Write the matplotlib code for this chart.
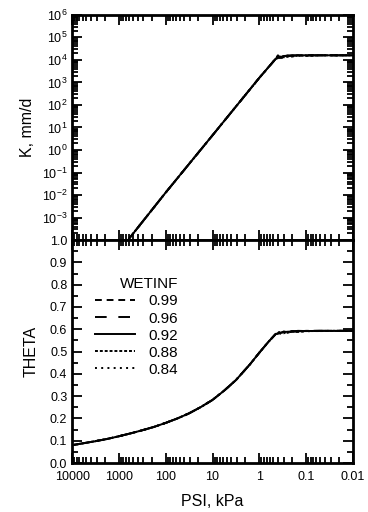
import numpy as np
import matplotlib
matplotlib.use("Agg")
from matplotlib import pyplot as plt
from matplotlib.ticker import FixedLocator, NullFormatter

plt.rcParams['font.family'] = ['Liberation Sans', 'DejaVu Sans']
plt.rcParams['mathtext.fontset'] = 'custom'
plt.rcParams['mathtext.rm'] = 'Liberation Sans'

# suction head, kPa
psi_k = [1500, 600, 100, 10, 1, 0.45, 0.40, 0.36, 0.33, 0.30, 0.25, 0.2, 0.15, 0.1, 0.05, 0.02, 0.01]
wetinf = ['0.99', '0.96', '0.92', '0.88', '0.84']
# hydraulic conductivity, mm/d, one list per WETINF
k_series = [
    [6e-6, 1.2e-4, 1.3e-2, 4.5e0, 1.6e3, 1.1e4, 1.6e4, 1.3e4, 1.7e4, 1.4e4, 1.6e4, 1.5e4, 1.6e4, 1.6e4, 1.6e4, 1.6e4, 1.6e4],
    [6e-6, 1.2e-4, 1.3e-2, 4.5e0, 1.6e3, 1.1e4, 1.3e4, 1.7e4, 1.3e4, 1.6e4, 1.4e4, 1.6e4, 1.5e4, 1.6e4, 1.6e4, 1.6e4, 1.6e4],
    [6e-6, 1.2e-4, 1.3e-2, 4.5e0, 1.6e3, 1.1e4, 1.2e4, 1.3e4, 1.4e4, 1.5e4, 1.5e4, 1.6e4, 1.6e4, 1.6e4, 1.6e4, 1.6e4, 1.6e4],
    [6e-6, 1.2e-4, 1.3e-2, 4.5e0, 1.6e3, 1.1e4, 1.5e4, 1.2e4, 1.6e4, 1.3e4, 1.5e4, 1.4e4, 1.6e4, 1.5e4, 1.6e4, 1.6e4, 1.6e4],
    [6e-6, 1.2e-4, 1.3e-2, 4.5e0, 1.6e3, 1.1e4, 1.4e4, 1.5e4, 1.2e4, 1.5e4, 1.4e4, 1.5e4, 1.5e4, 1.6e4, 1.6e4, 1.6e4, 1.6e4],
]

psi_t = [10000, 5620, 3160, 1780, 1000, 562, 316, 178, 100, 56.2, 31.6, 17.8, 10, 5.62, 3.16, 1.58, 1.0, 0.63, 0.45,
         0.40, 0.35, 0.30, 0.25, 0.2, 0.15, 0.1, 0.05, 0.01]
theta_head = [0.080, 0.089, 0.098, 0.108, 0.120, 0.133, 0.147, 0.162, 0.180, 0.200, 0.223, 0.251,
              0.283, 0.325, 0.372, 0.443, 0.495, 0.545, 0.578]
theta_series = [
    theta_head + [0.590, 0.584, 0.590, 0.587, 0.592, 0.590, 0.593, 0.593, 0.593],
    theta_head + [0.582, 0.592, 0.585, 0.591, 0.589, 0.593, 0.592, 0.593, 0.593],
    theta_head + [0.580, 0.584, 0.587, 0.589, 0.590, 0.591, 0.592, 0.593, 0.593],
    theta_head + [0.586, 0.580, 0.589, 0.584, 0.591, 0.588, 0.592, 0.592, 0.593],
    theta_head + [0.584, 0.588, 0.582, 0.590, 0.587, 0.591, 0.591, 0.593, 0.593],
]
styles = [(0, (3.5, 2.5)), (0, (6, 6)), '-', (0, (1.5, 1)), (0, (1, 2.2))]

psi_ticks = [10000, 1000, 100, 10, 1, 0.1, 0.01]
psi_labels = ['10000', '1000', '100', '10', '1', '0.1', '0.01']
k_ticks = [1e6, 1e5, 1e4, 1e3, 1e2, 1e1, 1e0, 1e-1, 1e-2, 1e-3]
k_labels = ['$10^{6}$', '$10^{5}$', '$10^{4}$', '$10^{3}$', '$10^{2}$', '$10^{1}$', '$10^{0}$',
            '$10^{-1}$', '$10^{-2}$', '$10^{-3}$']
theta_ticks = [0.0, 0.1, 0.2, 0.3, 0.4, 0.5, 0.6, 0.7, 0.8, 0.9, 1.0]


def style_axes(ax):
    ax.set_xscale('log')
    ax.set_xlim(10000, 0.01)
    ax.xaxis.set_major_locator(FixedLocator(psi_ticks))
    ax.xaxis.set_minor_locator(FixedLocator([m * 10.0 ** e for e in range(-2, 4) for m in range(2, 10)]))
    ax.tick_params(which='both', direction='in', top=True, right=True, width=1.3, colors='black')
    ax.tick_params(which='major', length=7, labelsize=9)
    ax.tick_params(which='minor', length=4)
    for s in ax.spines.values():
        s.set_linewidth(2)


fig = plt.figure(figsize=(3.68, 5.12), dpi=100)
ax_k = fig.add_axes([0.196, 0.531, 0.763, 0.44])
ax_t = fig.add_axes([0.196, 0.0957, 0.763, 0.4353])

for ks, st in zip(k_series, styles):
    ax_k.plot(psi_k, ks, color='black', linestyle=st, linewidth=1.4)
style_axes(ax_k)
ax_k.set_yscale('log')
ax_k.set_ylim(1e-4, 1e6)
ax_k.yaxis.set_major_locator(FixedLocator(k_ticks))
ax_k.set_yticklabels(k_labels)
ax_k.yaxis.set_minor_locator(FixedLocator([m * 10.0 ** e for e in range(-4, 6) for m in range(2, 10)]))
ax_k.yaxis.set_minor_formatter(NullFormatter())
ax_k.xaxis.set_major_formatter(NullFormatter())
ax_k.xaxis.set_minor_formatter(NullFormatter())
ax_k.set_ylabel('K, mm/d', fontsize=11.5, labelpad=5)

for ts, st, w in zip(theta_series, styles, wetinf):
    ax_t.plot(psi_t, ts, color='black', linestyle=st, linewidth=1.4, label=w)
style_axes(ax_t)
ax_t.set_ylim(0, 1.0)
ax_t.yaxis.set_major_locator(FixedLocator(theta_ticks))
ax_t.set_yticklabels(['%.1f' % v for v in theta_ticks])
ax_t.yaxis.set_minor_locator(FixedLocator(np.arange(0.05, 1.0, 0.1)))
ax_t.set_xticklabels(psi_labels)
ax_t.xaxis.set_minor_formatter(NullFormatter())
ax_t.tick_params(axis='x', pad=6)
ax_t.set_ylabel('THETA', fontsize=11.5, labelpad=8)
ax_t.set_xlabel('PSI, kPa', fontsize=11.5, labelpad=8)

leg = ax_t.legend(title='WETINF', loc='upper left', bbox_to_anchor=(0.06, 0.86), frameon=False,
                  fontsize=11, title_fontsize=11, handlelength=2.6, handletextpad=0.9,
                  labelspacing=0.2, borderaxespad=0)
leg._legend_box.align = 'right'

fig.savefig('out.png', dpi=100)
